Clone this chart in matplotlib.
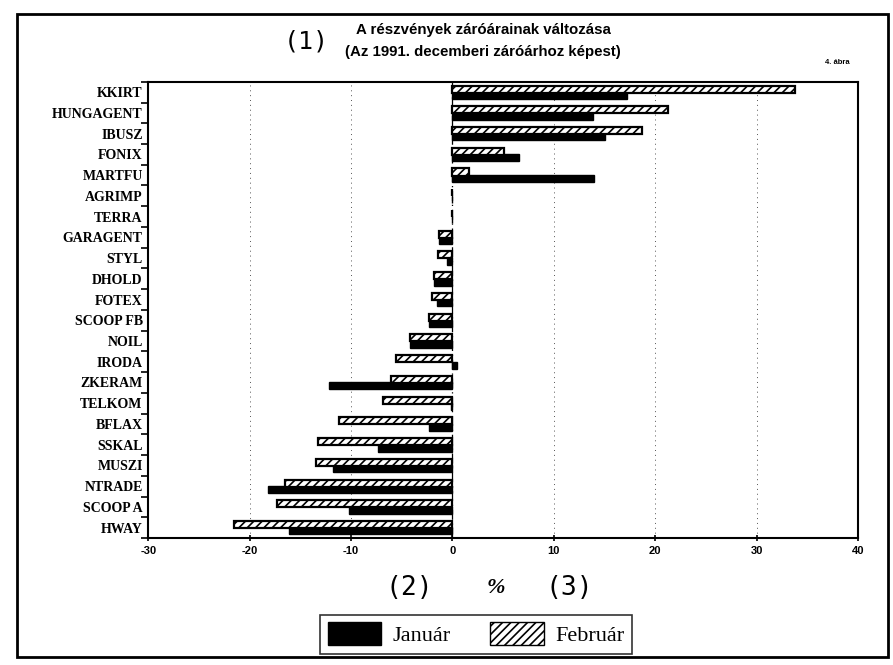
import matplotlib
matplotlib.use("Agg")
import matplotlib.pyplot as plt
import numpy as np
from matplotlib.patches import Rectangle, Patch

categories = ["KKIRT", "HUNGAGENT", "IBUSZ", "FONIX", "MARTFU", "AGRIMP", "TERRA",
              "GARAGENT", "STYL", "DHOLD", "FOTEX", "SCOOP FB", "NOIL", "IRODA",
              "ZKERAM", "TELKOM", "BFLAX", "SSKAL", "MUSZI", "NTRADE", "SCOOP A", "HWAY"]
januar = [17.2, 13.9, 15.0, 6.6, 14.0, 0.0, 0.0,
          -1.3, -0.5, -1.8, -1.5, -2.3, -4.2, 0.4,
          -12.2, -0.1, -2.3, -7.3, -11.8, -18.2, -10.2, -16.1]
februar = [33.8, 21.2, 18.7, 5.1, 1.6, 0.0, 0.0,
           -1.3, -1.4, -1.8, -2.0, -2.3, -4.2, -5.6,
           -6.1, -6.9, -11.2, -13.3, -13.5, -16.5, -17.3, -21.5]
xticks = [-30, -20, -10, 0, 10, 20, 30, 40]

plt.rcParams['hatch.linewidth'] = 1.2

fig = plt.figure(figsize=(8.93, 6.65), dpi=100)
ax = fig.add_axes([0.166, 0.191, 0.795, 0.686])

y = np.arange(len(categories))[::-1]
h = 0.34
ax.barh(y - 0.16, januar, height=h, color="black", edgecolor="black", lw=1, zorder=3)
ax.barh(y + 0.15, februar, height=h, facecolor="white", edgecolor="black",
        hatch="////", lw=1.6, zorder=4)

ax.set_xlim(-30, 40)
ax.set_ylim(-0.5, len(categories) - 0.5)
ax.set_xticks(xticks)
ax.set_xticklabels([str(t) for t in xticks], fontsize=8, fontweight="bold", family="Liberation Sans")
ax.set_yticks(y)
ax.set_yticklabels(categories, fontsize=10, fontweight="bold", family="Liberation Serif")
ax.tick_params(axis="y", length=0, pad=4)
ax.set_yticks(np.arange(len(categories) + 1) - 0.5, minor=True)
ax.tick_params(axis="y", which="minor", length=5, width=1.2, direction="out")
ax.tick_params(axis="x", length=5, width=1.2, direction="inout", pad=3)

for gx in [-20, -10, 10, 20, 30]:
    ax.axvline(gx, color="#555555", lw=0.7, ls=(0, (1, 4)), zorder=1)
ax.axvline(0, color="black", lw=0.9, ls=(0, (8, 3, 1, 3)), zorder=2)

for s in ax.spines.values():
    s.set_linewidth(1.5)

# titles
fig.text(0.343, 0.937, "(1)", fontsize=18, family="DejaVu Sans Mono", ha="center", va="center")
fig.text(0.541, 0.955, "A részvények záróárainak változása", fontsize=10.8,
         fontweight="bold", family="Liberation Sans", ha="center", va="center")
fig.text(0.541, 0.922, "(Az 1991. decemberi záróárhoz képest)", fontsize=10.8,
         fontweight="bold", family="Liberation Sans", ha="center", va="center")
fig.text(0.938, 0.906, "4. ábra", fontsize=5.5, fontweight="bold", family="Liberation Sans",
         ha="center", va="center")

fig.text(0.458, 0.116, "(2)", fontsize=19, family="DejaVu Sans Mono", ha="center", va="center")
fig.text(0.555, 0.116, "%", fontsize=16, fontstyle="italic", family="Liberation Serif",
         fontweight="bold", ha="center", va="center")
fig.text(0.638, 0.116, "(3)", fontsize=19, family="DejaVu Sans Mono", ha="center", va="center")

handles = [Patch(facecolor="black", edgecolor="black", label="Január"),
           Patch(facecolor="white", edgecolor="black", hatch="////", label="Február")]
leg = fig.legend(handles=handles, loc="center", bbox_to_anchor=(0.533, 0.046), ncol=2,
                 frameon=True, fancybox=False, edgecolor="black", handlelength=2.4,
                 handleheight=1.2, columnspacing=1.8, handletextpad=0.5,
                 borderpad=0.35, borderaxespad=0.0, prop={"family": "Liberation Serif", "size": 16})
leg.get_frame().set_linewidth(1.2)

# outer frame
fig.add_artist(Rectangle((0.019, 0.012), 0.975, 0.967, transform=fig.transFigure,
                         fill=False, edgecolor="black", lw=2))

fig.savefig("out.png", dpi=100)
